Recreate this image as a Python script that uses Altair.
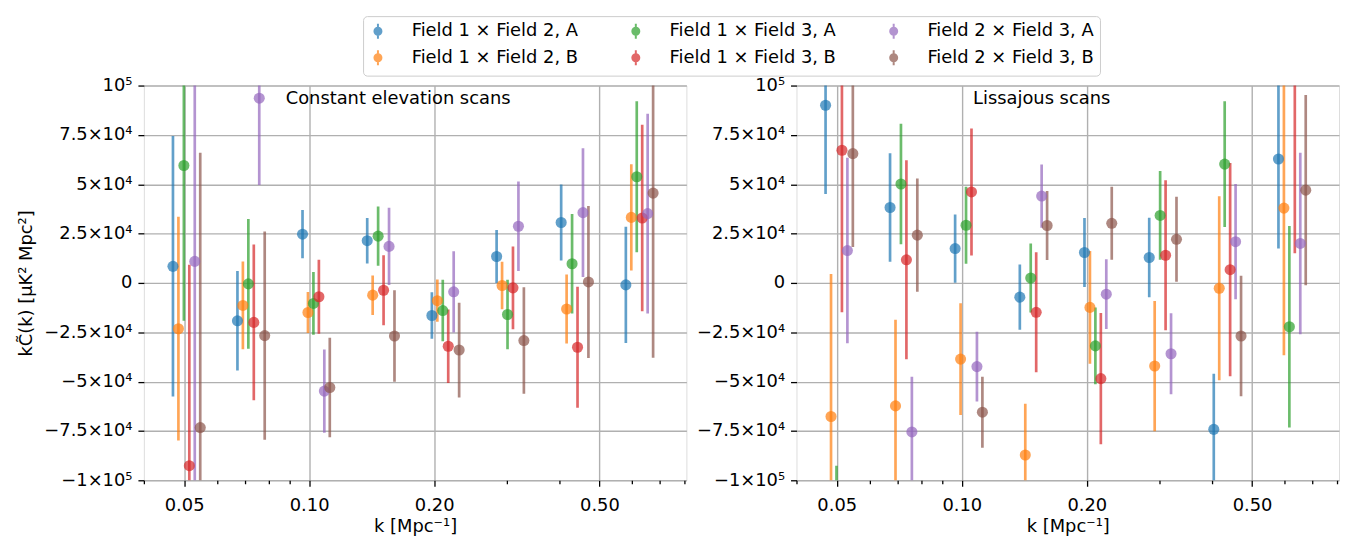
import altair as alt
import pandas as pd

# ---------------- data (values in units of 1e3 uK^2 Mpc^2) ----------------
K_BASE = [0.047, 0.0672, 0.0964, 0.138, 0.1975, 0.2828, 0.4045, 0.579]
SERIES = ["Field 1 × Field 2, A", "Field 1 × Field 2, B",
          "Field 1 × Field 3, A", "Field 1 × Field 3, B",
          "Field 2 × Field 3, A", "Field 2 × Field 3, B"]
COLORS = ["#1f77b4", "#ff7f0e", "#2ca02c", "#d62728", "#9467bd", "#8c564b"]

# Constant elevation scans
CES_A12 = [8.4, -19.2, 24.7, 21.4, -16.5, 13.4, 30.6, -1.0]
CES_A12_ERR = [66, 25.2, 12.2, 11.5, 11.8, 13.4, 19.3, 29.5]
CES_B12 = [-23.2, -11.4, -15.0, -6.2, -9.0, -1.3, -13.2, 33.2]
CES_B12_ERR = [56.7, 22.2, 10.4, 10.0, 10.7, 12.0, 17.5, 26.9]
CES_A13 = [59.5, -0.5, -10.4, 23.7, -14.0, -16.0, 9.7, 53.8]
CES_A13_ERR = [78.7, 32.9, 15.9, 15.0, 15.6, 17.6, 25.2, 38.3]
CES_B13 = [-92.6, -20.0, -7.0, -3.7, -32.1, -2.5, -32.6, 32.9]
CES_B13_ERR = [101.8, 39.5, 18.7, 17.7, 18.6, 21.0, 30.6, 47.2]
CES_A23 = [10.9, 93.6, -54.8, 18.5, -4.5, 28.7, 35.6, 35.1]
CES_A23_ERR = [120, 44, 21.1, 19.6, 20.6, 22.7, 32.6, 50.6]
CES_B23 = [-73.3, -26.7, -53.0, -26.9, -34.0, -29.2, 0.5, 45.5]
CES_B23_ERR = [139.3, 52.8, 25.2, 23.2, 24.0, 27.0, 38.5, 83.4]

# Lissajous scans
LIS_A12 = [90.0, 38.2, 17.4, -7.2, 15.4, 12.9, -74.2, 62.8]
LIS_A12_ERR = [45, 27.5, 17.3, 16.5, 17.5, 20.1, 28.2, 45.3]
LIS_B12 = [-67.7, -62.3, -38.6, -87.2, -12.4, -42.1, -2.7, 37.9]
LIS_B12_ERR = [72.2, 43.6, 28.3, 26.0, 28.6, 33.0, 46.6, 74.6]
LIS_A13 = [-140, 50.1, 29.2, 2.5, -31.9, 34.2, 60.2, -22.2]
LIS_A13_ERR = [47.4, 30.5, 19.5, 17.5, 19.5, 22.5, 31.9, 51.0]
LIS_B13 = [67.2, 11.7, 46.1, -14.9, -48.5, 14.0, 6.7, 110]
LIS_B13_ERR = [82, 50.4, 32.2, 30.4, 33.2, 38.0, 54.0, 95]
LIS_A23 = [16.4, -75.5, -42.4, 44.0, -5.7, -35.9, 20.9, 20.0]
LIS_A23_ERR = [47, 28, 17.7, 16.0, 17.7, 20.5, 29.2, 46]
LIS_B23 = [65.5, 24.2, -65.5, 29.1, 30.2, 22.1, -26.9, 47.0]
LIS_B23_ERR = [47.3, 28.7, 18.0, 17.5, 18.5, 21.5, 30.5, 48.2]

X_TICKS = [0.04, 0.05, 0.06, 0.07, 0.08, 0.09, 0.1, 0.2, 0.3, 0.4, 0.5, 0.6, 0.7, 0.8]
X_MAJOR = [0.05, 0.1, 0.2, 0.5]
Y_TICKS = [-100000, -75000, -50000, -25000, 0, 25000, 50000, 75000, 100000]

DODGE = 1.0307  # horizontal offset factor between series (display only)


def build(vals, errs):
    rows = []
    for i, (name, v, e) in enumerate(zip(SERIES, vals, errs)):
        for j, k in enumerate(K_BASE):
            rows.append({
                "series": name,
                "k": k * DODGE ** i,
                "val": v[j] * 1000,
                "lo": (v[j] - e[j]) * 1000,
                "hi": (v[j] + e[j]) * 1000,
            })
    return pd.DataFrame(rows)


ces = build([CES_A12, CES_B12, CES_A13, CES_B13, CES_A23, CES_B23],
            [CES_A12_ERR, CES_B12_ERR, CES_A13_ERR, CES_B13_ERR, CES_A23_ERR, CES_B23_ERR])
lis = build([LIS_A12, LIS_B12, LIS_A13, LIS_B13, LIS_A23, LIS_B23],
            [LIS_A12_ERR, LIS_B12_ERR, LIS_A13_ERR, LIS_B13_ERR, LIS_A23_ERR, LIS_B23_ERR])

FONT = "DejaVu Sans"
FS = 18

# legend in column-major order like matplotlib (A row, then B row)
LEG_ORDER = [SERIES[0], SERIES[2], SERIES[4], SERIES[1], SERIES[3], SERIES[5]]
LEG_COLORS = [COLORS[0], COLORS[2], COLORS[4], COLORS[1], COLORS[3], COLORS[5]]

# errorbar-like legend glyph: vertical line + filled (concentric-stroked) circle
rad = [0.47, 0.36, 0.25, 0.14, 0.04]
GLYPH = "M0,-1L0,1" + "".join(
    f"M{-r},0A{r},{r},0,1,1,{r},0A{r},{r},0,1,1,{-r},0" for r in rad)

major_test = "indexof([0.05, 0.1, 0.2, 0.5], datum.value) >= 0"

x_axis = alt.Axis(
    values=X_TICKS,
    labelExpr=f"{major_test} ? format(datum.value, '.2f') : ''",
    title="k [Mpc⁻¹]",
    grid=True,
    gridColor="#b0b0b0",
    gridWidth=1.4,
    gridOpacity={"condition": {"test": major_test, "value": 1}, "value": 0},
    tickSize={"condition": {"test": major_test, "value": 6}, "value": 3.5},
    tickWidth=1.3,
    tickColor="black",
    domain=False,
    labelFont=FONT, labelFontSize=FS, labelColor="black",
    labelOverlap=False, labelFlush=False, labelPadding=10,
    titleFont=FONT, titleFontSize=FS, titleColor="black",
    titleFontWeight="normal", titlePadding=4,
)

y_label_expr = ("datum.value == 0 ? '0' : datum.value == 100000 ? '10⁵' : "
                "datum.value == -100000 ? '−1×10⁵' : "
                "(datum.value < 0 ? '−' : '') + format(abs(datum.value) / 10000, '~g') + '×10⁴'")


def y_axis(title):
    kw = dict(
        values=Y_TICKS,
        labelExpr=y_label_expr,
        grid=True, gridColor="#b0b0b0", gridWidth=1.4,
        tickSize=6, tickWidth=1.3, tickColor="black",
        domain=False,
        labelFont=FONT, labelFontSize=FS, labelColor="black", labelPadding=6,
        titleFont=FONT, titleFontSize=FS, titleColor="black",
        titleFontWeight="normal", titlePadding=8,
    )
    return alt.Axis(title=title, **kw)


x_scale = alt.Scale(type="log", domain=[0.04, 0.81], nice=False)
y_scale = alt.Scale(domain=[-100000, 100000], nice=False, zero=False)

color = alt.Color(
    "series:N",
    scale=alt.Scale(domain=LEG_ORDER, range=LEG_COLORS),
    legend=alt.Legend(
        title=None, orient="none", legendX=221, legendY=-70,
        direction="horizontal", columns=3,
        symbolType=GLYPH, symbolSize=225, symbolStrokeWidth=2,
        labelFont=FONT, labelFontSize=FS, labelColor="black", labelLimit=320,
        labelOffset=25, columnPadding=49, rowPadding=3, padding=6,
        strokeColor="#cccccc", fillColor="white", cornerRadius=4,
    ),
)


def panel(df, label, label_x, ytitle):
    base = alt.Chart(df)
    rules = base.mark_rule(strokeWidth=2.7, opacity=0.7, clip=True).encode(
        x=alt.X("k:Q", scale=x_scale, axis=x_axis),
        y=alt.Y("lo:Q", scale=y_scale, axis=y_axis(ytitle)),
        y2="hi:Q",
        color=color,
    )
    pts = base.mark_circle(size=125, opacity=0.7, clip=True).encode(
        x=alt.X("k:Q", scale=x_scale, axis=x_axis),
        y=alt.Y("val:Q", scale=y_scale, axis=y_axis(ytitle)),
        color=color,
    )
    txt = alt.Chart(pd.DataFrame({"t": [label]})).mark_text(
        align="left", baseline="middle", font=FONT, fontSize=FS, color="black"
    ).encode(x=alt.value(label_x), y=alt.value(14), text="t:N")
    return alt.layer(rules, pts, txt).properties(width=547, height=398)


left = panel(ces, "Constant elevation scans", 143, "kC̃(k) [μK² Mpc²]")
right = panel(lis, "Lissajous scans", 178, None)

chart = alt.hconcat(left, right, spacing=8).properties(
    padding={"left": 9, "top": 5, "right": 0, "bottom": 0}
).configure_view(stroke="black", strokeWidth=1.4).configure(font=FONT)

chart.save("out.html", embed_options={"renderer": "svg", "actions": False})
